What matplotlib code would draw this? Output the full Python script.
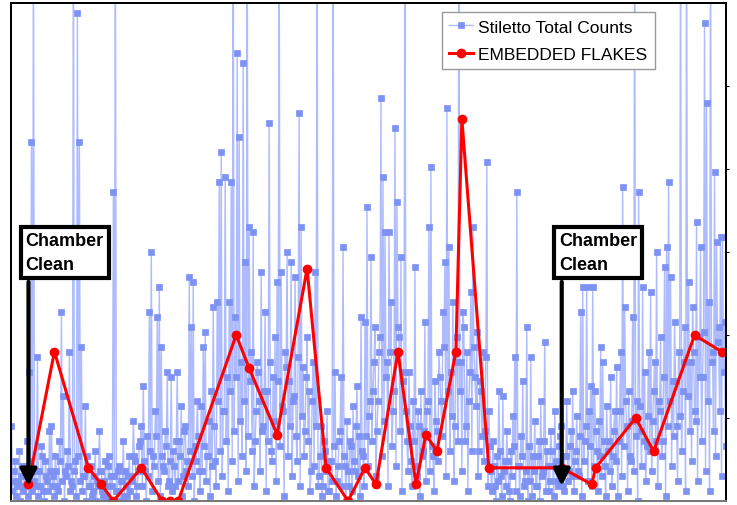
import matplotlib
matplotlib.use('Agg')
import matplotlib.pyplot as plt

plt.rcParams['font.family'] = ['Liberation Sans', 'DejaVu Sans']

# Stiletto total counts, one value per sample (spikes above 100 run off the top)
stiletto_counts = [
    15, 2, 4, 6, 8, 1, 3, 4, 10, 0, 5, 7, 2, 3, 7, 5, 12, 1, 26, 8,
    72, 2, 120, 4, 3, 6, 29, 1, 6, 3, 11, 9, 2, 0, 8, 5, 4, 2, 14, 6,
    15, 3, 5, 1, 9, 6, 3, 2, 12, 8, 38, 4, 21, 0, 6, 5, 10, 7, 30, 2,
    4, 3, 120, 6, 8, 1, 98, 9, 72, 4, 31, 2, 5, 5, 19, 0, 9, 7, 3, 3,
    7, 1, 2, 5, 10, 0, 4, 3, 14, 6, 6, 2, 1, 4, 8, 1, 3, 7, 9, 0,
    5, 3, 62, 5, 120, 2, 2, 6, 7, 0, 4, 4, 12, 1, 6, 3, 1, 5, 9, 2,
    5, 4, 16, 9, 8, 1, 3, 6, 11, 12, 15, 3, 23, 8, 6, 0, 13, 5, 38, 10,
    50, 2, 9, 7, 18, 13, 37, 4, 43, 1, 31, 9, 7, 6, 14, 11, 26, 3, 4, 8,
    25, 2, 10, 7, 3, 12, 26, 4, 12, 9, 19, 1, 5, 14, 15, 6, 8, 3, 45, 10,
    35, 5, 44, 0, 11, 8, 20, 13, 6, 2, 19, 6, 31, 11, 34, 4, 9, 9, 16, 1,
    22, 7, 39, 15, 8, 3, 40, 20, 64, 10, 70, 5, 18, 18, 65, 12, 25, 2, 40, 22,
    64, 8, 120, 14, 37, 25, 90, 4, 73, 16, 28, 9, 88, 20, 48, 6, 120, 13, 55, 24,
    30, 10, 54, 3, 12, 18, 28, 26, 20, 6, 46, 14, 15, 22, 38, 2, 22, 12, 76, 28,
    10, 8, 25, 16, 33, 4, 44, 24, 120, 11, 46, 19, 18, 1, 30, 27, 50, 9, 24, 15,
    48, 5, 20, 21, 45, 13, 8, 29, 78, 3, 55, 17, 27, 9, 14, 25, 33, 12, 22, 2,
    6, 20, 28, 7, 46, 15, 120, 3, 5, 9, 15, 1, 3, 12, 10, 6, 18, 2, 2, 8,
    8, 4, 120, 11, 26, 1, 4, 7, 12, 14, 25, 3, 51, 9, 7, 0, 16, 6, 3, 12,
    11, 2, 19, 8, 6, 15, 23, 5, 13, 1, 37, 10, 9, 3, 36, 13, 59, 7, 17, 20,
    49, 12, 22, 28, 35, 5, 14, 20, 30, 33, 81, 9, 65, 16, 54, 25, 28, 3, 54, 30,
    40, 11, 18, 22, 75, 7, 60, 35, 33, 14, 49, 2, 24, 26, 120, 18, 12, 6, 26, 15,
    8, 3, 20, 12, 47, 7, 5, 18, 15, 1, 22, 9, 10, 14, 36, 4, 18, 20, 55, 6,
    67, 11, 9, 2, 24, 16, 14, 8, 30, 25, 20, 13, 38, 31, 48, 5, 79, 22, 51, 10,
    26, 17, 40, 4, 15, 28, 33, 12, 120, 22, 28, 6, 38, 35, 12, 15, 30, 2, 20, 26,
    42, 10, 55, 31, 25, 19, 34, 5, 10, 24, 22, 13, 30, 8, 14, 29, 68, 3, 18, 11,
    6, 2, 12, 7, 3, 0, 9, 4, 22, 10, 5, 1, 21, 6, 8, 3, 14, 8, 2, 0,
    10, 5, 17, 11, 29, 2, 62, 7, 7, 1, 13, 9, 24, 3, 4, 6, 35, 0, 11, 4,
    29, 1, 9, 6, 16, 3, 3, 9, 12, 0, 20, 5, 6, 12, 32, 2, 10, 7, 2, 4,
    14, 10, 7, 1, 18, 8, 4, 3, 11, 13, 15, 6, 3, 2, 9, 9, 20, 4, 6, 11,
    14, 5, 22, 2, 8, 10, 17, 6, 5, 13, 38, 1, 43, 8, 12, 15, 43, 4, 18, 11,
    23, 3, 43, 7, 22, 14, 10, 2, 16, 9, 31, 5, 28, 12, 7, 1, 19, 10, 12, 6,
    25, 3, 9, 14, 18, 8, 27, 1, 12, 18, 30, 5, 63, 11, 39, 20, 15, 2, 22, 9,
    8, 16, 37, 6, 120, 13, 20, 0, 62, 19, 14, 7, 43, 12, 26, 4, 11, 17, 30, 10,
    42, 6, 16, 22, 28, 12, 50, 3, 20, 18, 33, 9, 12, 25, 47, 1, 51, 15, 64, 20,
    45, 7, 24, 13, 36, 24, 15, 4, 30, 17, 120, 10, 22, 28, 35, 2, 120, 21, 44, 14,
    28, 8, 39, 30, 18, 16, 56, 4, 33, 25, 51, 12, 25, 34, 96, 6, 80, 20, 40, 2,
    120, 28, 30, 14, 66, 9, 52, 32, 35, 18, 53, 5, 53, 26, 36, 11,
]
sample_idx = list(range(len(stiletto_counts)))

# Embedded flakes (sample index, count)
flake_idx = [17, 43, 77, 90, 102, 130, 151, 159, 167, 225, 238, 266, 296, 315, 337, 354,
             365, 387, 405, 415, 426, 445, 451, 478, 551, 581, 585, 625, 643, 684, 711]
flake_counts = [1, 9, 2, 1, 0, 2, 0, 0, 0, 10, 8, 4, 14, 2, 0, 2,
                1, 9, 1, 4, 3, 9, 23, 2, 2, 1, 2, 5, 3, 10, 9]

# where the chamber was cleaned (positions in the flake series)
clean_events = [0, 24]

fig = plt.figure(figsize=(7.37, 5.06), dpi=100)
ax = fig.add_axes([11 / 737, 4 / 506, 715 / 737, 498 / 506])

blue_line, = ax.plot(sample_idx, stiletto_counts, color='#aebcff', lw=1.0,
                     marker='s', markersize=3.8, markerfacecolor='#7d92f2',
                     markeredgecolor='#7d92f2', markeredgewidth=0.5,
                     label='Stiletto Total Counts')
ax.set_xlim(-0.5, len(stiletto_counts) - 0.5)
ax.set_ylim(0, 100)
ax.set_xticks([])
ax.set_yticks([])

ax2 = ax.twinx()
red_line, = ax2.plot(flake_idx, flake_counts, color='#ff0000', lw=2.2,
                     marker='o', markersize=6, label='EMBEDDED FLAKES')
ax2.set_ylim(0, 30)
ax2.set_yticks([5, 10, 15, 20, 25])
ax2.tick_params(axis='y', direction='out', length=2, width=0.8, labelright=False)

for a in (ax, ax2):
    for s in a.spines.values():
        s.set_color('black')
        s.set_linewidth(1.3)
    a.spines['bottom'].set_color('#777777')

# Chamber clean call-outs: box text and a straight arrow down to the event
for k in clean_events:
    x = flake_idx[k]
    ax2.annotate('', xy=(x, 0.03), xycoords=('data', 'axes fraction'),
                 xytext=(x, 0.44), textcoords=('data', 'axes fraction'),
                 arrowprops=dict(arrowstyle='-|>', color='black', lw=3,
                                 mutation_scale=25, shrinkA=0, shrinkB=0),
                 zorder=5)
    ax2.annotate('Chamber\nClean', xy=(x, 0.54), xycoords=('data', 'axes fraction'),
                 xytext=(-2, 0), textcoords='offset points',
                 ha='left', va='top', fontsize=13, fontweight='bold',
                 linespacing=1.55,
                 bbox=dict(boxstyle='square,pad=0.28', fc='white', ec='black', lw=3),
                 zorder=6)

leg = ax2.legend(handles=[blue_line, red_line], loc='upper right',
                 bbox_to_anchor=(0.90, 0.981), borderaxespad=0, fontsize=12.5,
                 fancybox=False, framealpha=1, edgecolor='#999999',
                 handlelength=1.4, handletextpad=0.3, borderpad=0.4,
                 labelspacing=0.7)
leg.get_frame().set_linewidth(1.0)

plt.savefig('out.png', dpi=100)
